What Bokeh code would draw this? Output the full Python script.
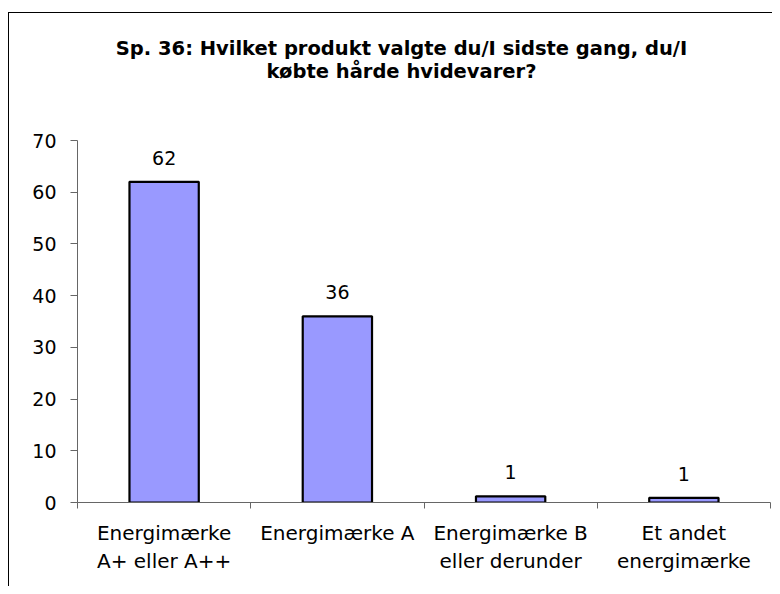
from bokeh.plotting import figure
from bokeh.models import Range1d, FixedTicker, LinearAxis, Label
from bokeh.core.properties import value
from bokeh.embed import file_html
from bokeh.resources import INLINE

title_lines = ["Sp. 36: Hvilket produkt valgte du/I sidste gang, du/I",
               "købte hårde hvidevarer?"]
categories = ["Energimærke\nA+ eller A++", "Energimærke A",
              "Energimærke B\neller derunder", "Et andet\nenergimærke"]
values = [62, 36, 1.2, 0.9]
value_labels = ["62", "36", "1", "1"]
y_ticks = [0, 10, 20, 30, 40, 50, 60, 70]

FONT = "DejaVu Sans"
AXIS_COLOR = "#666666"

W, H = 772, 586
FRAME_LEFT, FRAME_RIGHT, FRAME_BOTTOM = 77, 770, 502
Y_AXIS_TOP_PX = 140  # pixel row where the value 70 sits

positions = [i + 0.5 for i in range(len(categories))]
boundaries = list(range(len(categories) + 1))
y_top = y_ticks[-1] * FRAME_BOTTOM / (FRAME_BOTTOM - Y_AXIS_TOP_PX)

p = figure(width=W, height=H, output_backend="svg", toolbar_location=None,
           x_range=Range1d(0, len(categories)), y_range=Range1d(0, y_top),
           x_axis_location=None, y_axis_location=None,
           min_border_left=FRAME_LEFT, min_border_right=W - FRAME_RIGHT,
           min_border_top=0, min_border_bottom=H - FRAME_BOTTOM)
p.outline_line_color = None
p.grid.visible = False
p.background_fill_color = None
p.border_fill_color = None
p.styles = {
    "background": ("linear-gradient(#000,#000) 8px 12px / 1px 100% no-repeat, "
                   "linear-gradient(#000,#000) 8px 12px / 100% 1px no-repeat, #ffffff"),
}

yaxis = LinearAxis(ticker=FixedTicker(ticks=y_ticks), bounds=(y_ticks[0], y_ticks[-1]))
yaxis.axis_line_color = AXIS_COLOR
yaxis.major_tick_line_color = AXIS_COLOR
yaxis.major_tick_out = 7
yaxis.major_tick_in = 0
yaxis.minor_tick_line_color = None
yaxis.major_label_standoff = 14
yaxis.major_label_text_font = FONT
yaxis.major_label_text_font_size = "19px"
yaxis.major_label_text_color = "black"
p.add_layout(yaxis, "left")

xaxis = LinearAxis(ticker=FixedTicker(ticks=positions, minor_ticks=boundaries))
xaxis.major_label_overrides = {pos: cat for pos, cat in zip(positions, categories)}
xaxis.axis_line_color = AXIS_COLOR
xaxis.major_tick_line_color = None
xaxis.major_tick_out = 0
xaxis.major_tick_in = 0
xaxis.minor_tick_line_color = AXIS_COLOR
xaxis.minor_tick_out = 6
xaxis.minor_tick_in = 0
xaxis.major_label_standoff = 12
xaxis.major_label_text_font = FONT
xaxis.major_label_text_font_size = "20px"
xaxis.major_label_text_color = "black"
xaxis.major_label_text_line_height = 1.2
p.add_layout(xaxis, "below")

p.vbar(x=positions, top=values, bottom=0, width=0.4,
       fill_color="#9999FF", line_color="black", line_width=2.2)

p.text(x=positions, y=values, text=value_labels, text_align="center",
       text_baseline="alphabetic", y_offset=-24,
       text_font=value(FONT), text_font_size="19px", text_color="black")

title_center_x = 401 - FRAME_LEFT
for txt, base_px in zip(title_lines, [48, 71]):
    p.add_layout(Label(x=title_center_x, y=FRAME_BOTTOM - base_px,
                       x_units="screen", y_units="screen", text=txt,
                       text_align="center", text_baseline="alphabetic",
                       text_font=FONT, text_font_style="bold",
                       text_font_size="19.5px", text_color="black"))

open("out.html", "w").write(file_html(p, INLINE))
